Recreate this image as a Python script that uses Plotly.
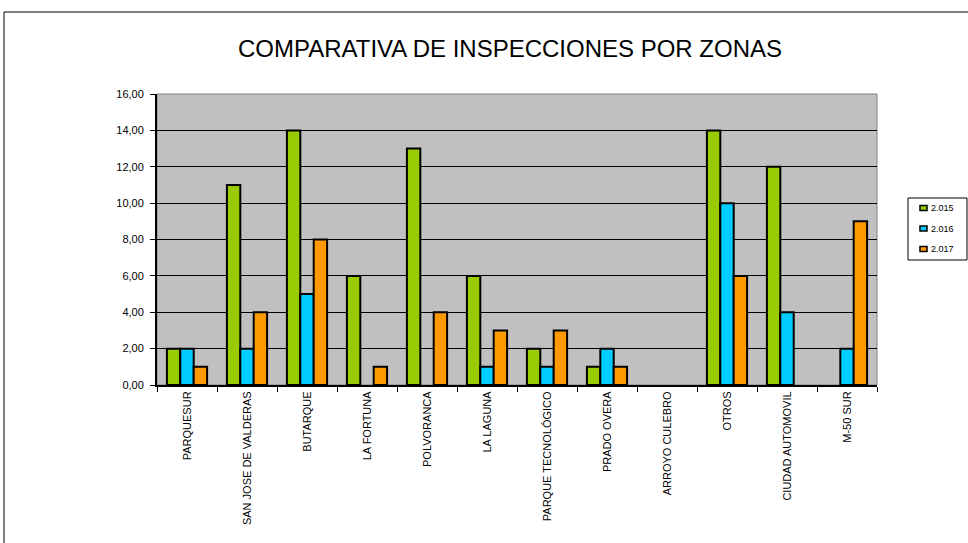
import plotly.graph_objects as go

categories = ["PARQUESUR", "SAN JOSE DE VALDERAS", "BUTARQUE", "LA FORTUNA", "POLVORANCA",
              "LA LAGUNA", "PARQUE TECNOLÓGICO", "PRADO OVERA", "ARROYO CULEBRO", "OTROS",
              "CIUDAD AUTOMOVIL", "M-50 SUR"]
s2015 = [2, 11, 14, 6, 13, 6, 2, 1, 0, 14, 12, 0]
s2016 = [2, 2, 5, 0, 0, 1, 1, 2, 0, 10, 4, 2]
s2017 = [1, 4, 8, 1, 4, 3, 3, 1, 0, 6, 0, 9]
series = [("2.015", s2015, "#99CC00"), ("2.016", s2016, "#00CCFF"), ("2.017", s2017, "#FF9900")]

# plot-area geometry in pixels (for paper-coordinate conversions of decorations)
PL, PR, PT, PB = 157, 877, 94, 385
def px(x):
    return (x - PL) / (PR - PL)
def py(y):
    return (PB - y) / (PB - PT)

fig = go.Figure()
for name, vals, col in series:
    widths = [2 if v else 0 for v in vals]
    fig.add_trace(go.Bar(x=categories, y=vals, name=name, showlegend=False,
                         marker=dict(color=col, line=dict(color="black", width=widths))))

fig.update_layout(
    width=968, height=543,
    margin=dict(l=PL, r=968 - PR, t=PT, b=543 - PB),
    paper_bgcolor="white", plot_bgcolor="#C0C0C0",
    separators=",.",
    barmode="group", bargap=0.33, bargroupgap=0.0,
    title=dict(text="COMPARATIVA DE INSPECCIONES POR ZONAS", x=510 / 968, xanchor="center",
               y=1 - 49 / 543, yanchor="middle", xref="container", yref="container",
               font=dict(family="Liberation Sans", size=24, color="black")),
    font=dict(family="Liberation Sans", color="black"),
    showlegend=False,
)
fig.update_yaxes(range=[0, 16], dtick=2, tickformat=".2f", showgrid=True, gridcolor="black", gridwidth=1,
                 showline=True, linecolor="black", linewidth=2, ticks="outside", ticklen=5, tickcolor="black",
                 ticklabelstandoff=4,
                 tickfont=dict(size=11, family="Liberation Sans"), zeroline=False)
fig.update_xaxes(tickangle=-90, tickson="boundaries", ticks="outside", ticklen=5, tickcolor="black",
                 showline=True, linecolor="black", linewidth=2,
                 tickfont=dict(size=11, family="Liberation Sans"))

fig.add_shape(type="rect", xref="paper", yref="paper", x0=0, x1=1, y0=0, y1=1,
              line=dict(color="#808080", width=1), layer="below")
# outer chart border
fig.add_shape(type="rect", xref="paper", yref="paper", x0=px(4), x1=px(1000), y0=py(600), y1=py(12),
              line=dict(color="black", width=1))

# legend box (custom, to keep the compact Excel-like legend)
fig.add_shape(type="rect", xref="paper", yref="paper", x0=px(908), x1=px(967), y0=py(260), y1=py(198),
              line=dict(color="black", width=1), fillcolor="white")
for i, (name, vals, col) in enumerate(series):
    yc = 208 + i * 20.5
    fig.add_shape(type="rect", xref="paper", yref="paper", x0=px(920), x1=px(927), y0=py(yc + 2.5), y1=py(yc - 2.5),
                  line=dict(color="black", width=1.5), fillcolor=col)
    fig.add_annotation(text=name, xref="paper", yref="paper", x=px(928.5), y=py(yc), xanchor="left",
                       yanchor="middle", showarrow=False, font=dict(size=9, family="Liberation Sans", color="black"))

fig.write_html("out.html", config={"displayModeBar": False},
               post_script="document.body.style.margin='0';document.body.style.overflow='hidden';")
